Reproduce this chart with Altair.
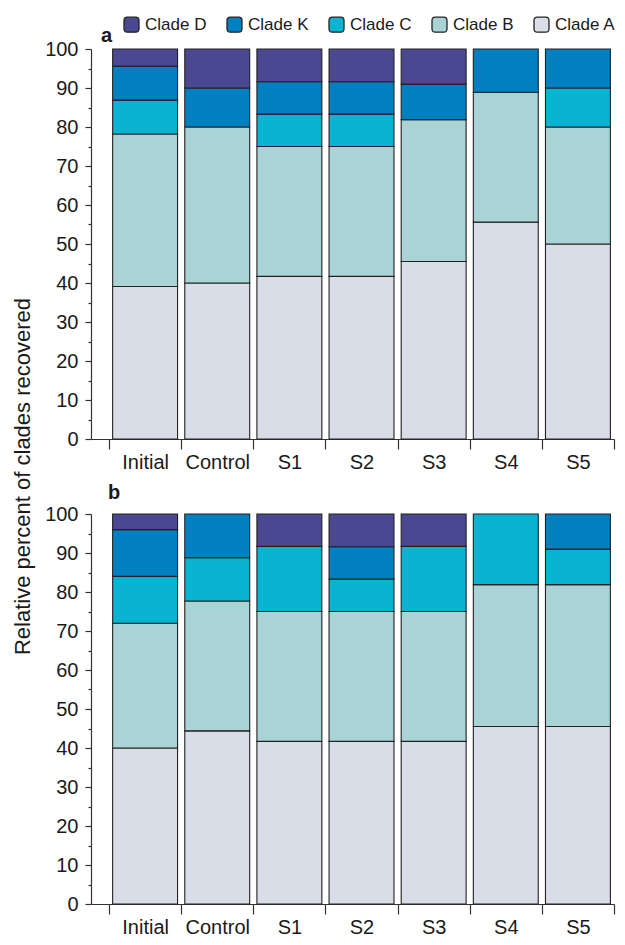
import altair as alt
import pandas as pd

groups = ["Initial", "Control", "S1", "S2", "S3", "S4", "S5"]
clades = ["Clade A", "Clade B", "Clade C", "Clade K", "Clade D"]  # bottom -> top
legend_order = ["Clade D", "Clade K", "Clade C", "Clade B", "Clade A"]
colors = ["#4a4891", "#0080c1", "#08b4d1", "#aad3d6", "#d9dde8"]

# Panel a (percent per clade)
a_A = [39.1, 40.0, 41.7, 41.7, 45.5, 55.6, 50.0]
a_B = [39.1, 40.0, 33.3, 33.3, 36.4, 33.3, 30.0]
a_C = [8.7, 0.0, 8.3, 8.3, 0.0, 0.0, 10.0]
a_K = [8.7, 10.0, 8.3, 8.3, 9.1, 11.1, 10.0]
a_D = [4.4, 10.0, 8.4, 8.4, 9.0, 0.0, 0.0]

# Panel b
b_A = [40.0, 44.4, 41.7, 41.7, 41.7, 45.5, 45.5]
b_B = [32.0, 33.3, 33.3, 33.3, 33.3, 36.4, 36.4]
b_C = [12.0, 11.1, 16.7, 8.3, 16.7, 18.1, 9.1]
b_K = [12.0, 11.2, 0.0, 8.3, 0.0, 0.0, 9.0]
b_D = [4.0, 0.0, 8.3, 8.4, 8.3, 0.0, 0.0]


def build(series):
    rows = []
    for rank, (clade, vals) in enumerate(zip(clades, series)):
        for g, v in zip(groups, vals):
            if v > 0:
                rows.append({"group": g, "clade": clade, "value": v, "rank": rank})
    return pd.DataFrame(rows)


df_a = build([a_A, a_B, a_C, a_K, a_D])
df_b = build([b_A, b_B, b_C, b_K, b_D])

FONT = "Liberation Sans"
TXT = "#1a1a1a"
AX = "#333333"

rounded_square = ("M -0.55 -1 H 0.55 Q 1 -1 1 -0.55 V 0.55 Q 1 1 0.55 1 H -0.55 "
                  "Q -1 1 -1 0.55 V -0.55 Q -1 -1 -0.55 -1 Z")

W, H = 523, 390


def panel(df, letter, lx, ly, show_legend):
    if show_legend:
        legend = alt.Legend(
            title=None, orient="none", legendX=32, legendY=-33,
            direction="horizontal", columns=5,
            symbolType=rounded_square, symbolSize=225,
            symbolStrokeColor="#222222", symbolStrokeWidth=1.3,
            labelFontSize=17, labelFont=FONT, labelColor=TXT,
            labelOffset=5, columnPadding=17,
        )
    else:
        legend = None
    bars = alt.Chart(df).mark_bar(
        width=alt.RelativeBandSize(0.9), stroke="#222222", strokeWidth=1.1
    ).encode(
        x=alt.X("group:N", sort=groups,
                scale=alt.Scale(domain=groups, paddingInner=0, paddingOuter=0.125, align=1),
                axis=alt.Axis(title=None, tickBand="extent", tickSize=10, labelPadding=3,
                              labelAngle=0, labelFontSize=20, labelFont=FONT, labelColor=TXT,
                              domainColor=AX, tickColor=AX, domainWidth=1.2, tickWidth=1.2)),
        y=alt.Y("value:Q", stack="zero",
                scale=alt.Scale(domain=[0, 100], nice=False),
                axis=alt.Axis(title=None, values=list(range(0, 101, 5)),
                              labelExpr="datum.value % 10 === 0 ? datum.label : ''",
                              tickSize={"condition": {"test": "datum.value % 10 === 0", "value": 6}, "value": 3},
                              labelPadding=7, labelFontSize=20, labelFont=FONT, labelColor=TXT,
                              domainColor=AX, tickColor=AX, domainWidth=1.2, tickWidth=1.2,
                              grid=False)),
        color=alt.Color("clade:N", scale=alt.Scale(domain=legend_order, range=colors), legend=legend),
        order=alt.Order("rank:Q", sort="ascending"),
    )
    label = alt.Chart(pd.DataFrame({"t": [letter]})).mark_text(
        fontSize=20, fontWeight="bold", font=FONT, color=TXT, align="left", baseline="alphabetic"
    ).encode(text="t:N", x=alt.value(lx), y=alt.value(ly))
    return alt.layer(bars, label).properties(width=W, height=H)


top = panel(df_a, "a", 10, -7, True)
bottom = panel(df_b, "b", 17, -15, False)

chart = alt.vconcat(top, bottom, spacing=11).resolve_scale(color="independent").properties(
    title=alt.TitleParams("Relative percent of clades recovered", orient="left", anchor="middle",
                          fontSize=22, fontWeight="normal", font=FONT, color=TXT, offset=10),
    padding={"left": 3, "top": 8, "right": 0, "bottom": 0},
).configure(font=FONT).configure_view(stroke=None)

chart.save("out.html", embed_options={"renderer": "svg", "actions": False})
